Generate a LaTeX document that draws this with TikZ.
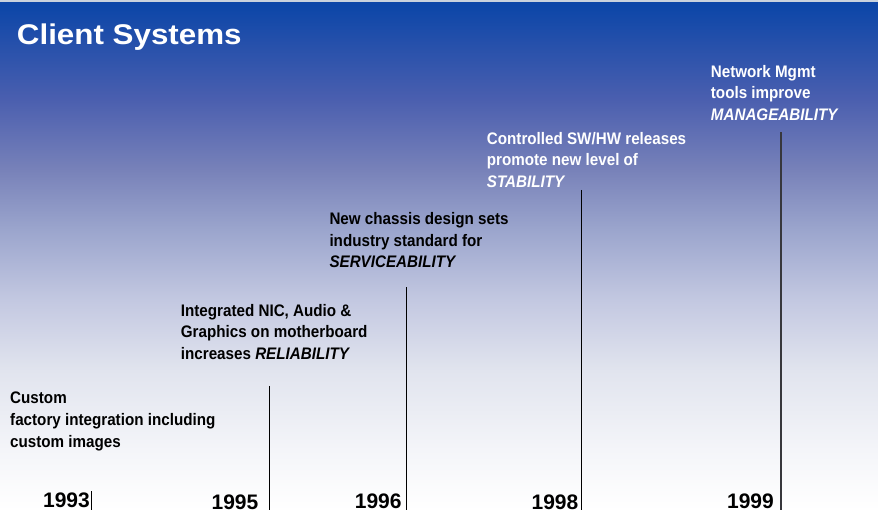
\documentclass[tikz,border=0pt]{standalone}
\usepackage{fontspec}
\setmainfont{Liberation Sans}
\newfontfamily\narrowfont[FakeStretch=0.91]{Liberation Sans}
\newfontfamily\widefont[FakeStretch=1.1]{Liberation Sans}

\definecolor{skytop}{RGB}{12,70,168}
\definecolor{skyA}{RGB}{75,95,175}
\definecolor{skyB}{RGB}{120,130,185}
\definecolor{skyC}{RGB}{155,165,205}
\definecolor{skyD}{RGB}{195,200,225}
\definecolor{skyE}{RGB}{225,228,238}
\definecolor{skyF}{RGB}{244,245,249}
\definecolor{rimline}{RGB}{200,210,222}
\definecolor{stemgray}{RGB}{55,55,60}

\pgfdeclareverticalshading{skyfade}{100bp}{color(0bp)=(white); color(25bp)=(white);
  color(30.9bp)=(skyF); color(38.7bp)=(skyE); color(45.6bp)=(skyD);
  color(52.5bp)=(skyC); color(58.3bp)=(skyB); color(65.2bp)=(skyA);
  color(74.5bp)=(skytop); color(100bp)=(skytop)}

\begin{document}
\begin{tikzpicture}[x=1pt, y=-1pt,
    blurb/.style={align=left, inner sep=0pt, anchor=base west,
      font=\narrowfont\bfseries\fontsize{16.7}{21.7}\selectfont},
    year/.style={inner sep=0pt, anchor=base east,
      font=\bfseries\fontsize{21}{21}\selectfont},
    stem/.style={line width=1pt}]

                \useasboundingbox (0,0) rectangle (878,510);

                % Background
                \shade[shading=skyfade] (0,0) rectangle (878,510);
                \fill[rimline] (0,0) rectangle (878,2.5);

                % Title
                \node[inner sep=0pt, anchor=base west, text=white,
                    font=\widefont\bfseries\fontsize{28.5}{28.5}\selectfont]
                    (title) at (16.7,45) {Client Systems};

                % Milestone texts (placed by their last line)
                \node[blurb] (txt93) at (10,447) {Custom\\factory integration including\\custom images};
                \node[blurb] (txt95) at (180.7,359.5) {Integrated NIC, Audio \&\\Graphics on motherboard\\increases \textit{RELIABILITY}};
                \node[blurb] (txt96) at (329.3,268) {New chassis design sets\\industry standard for\\\textit{SERVICEABILITY}};
                \node[blurb, text=white] (txt98) at (486.7,187.5) {Controlled SW/HW releases\\promote new level of\\\textit{STABILITY}};
                \node[blurb, text=white] (txt99) at (710.7,120.5) {Network Mgmt\\tools improve\\\textit{MANAGEABILITY}};

                % Years
                \node[year] (y93) at (90,507.5) {1993};
                \node[year] (y95) at (258.5,509) {1995};
                \node[year] (y96) at (401.8,508.5) {1996};
                \node[year] (y98) at (578.5,509) {1998};
                \node[year] (y99) at (774,508) {1999};

                % Stems
                \coordinate (floor) at (0,510);
                \coordinate (s93) at (91,491);
                \coordinate (s95) at (269.3,386);
                \coordinate (s96) at (406,287.5);
                \coordinate (s98) at (581,190);
                \coordinate (s99) at (780.5,132.5);
                \draw[stem] (s93) -- (s93 |- floor);
                \draw[stem] (s95) -- (s95 |- floor);
                \draw[stem] (s96) -- (s96 |- floor);
                \draw[stem] (s98) -- (s98 |- floor);
                \draw[stem, stemgray, line width=2pt] (s99) -- (s99 |- floor);

\end{tikzpicture}
\end{document}
